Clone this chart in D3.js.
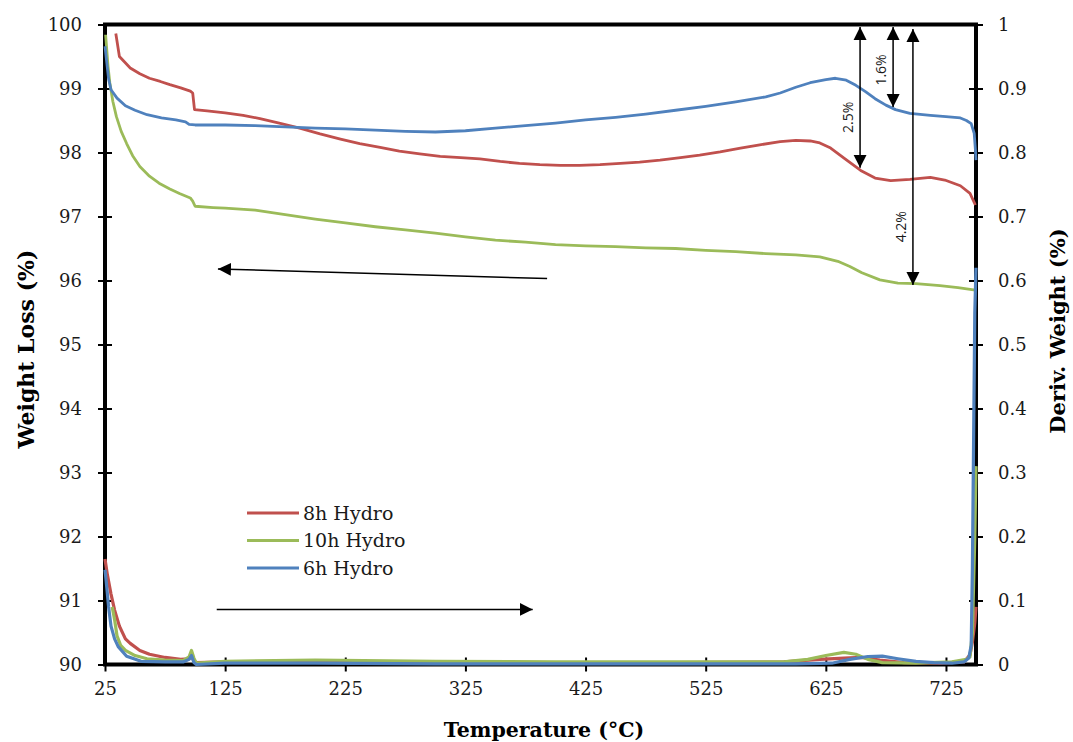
<!DOCTYPE html>
<html>
<head>
<meta charset="utf-8">
<script src="https://cdn.jsdelivr.net/npm/d3@7"></script>
<style>
  body { margin: 0; background: #fff; }
  svg text { font-family: "DejaVu Serif", "Liberation Serif", serif; }
</style>
</head>
<body>
<div id="chart"></div>
<script>
// series names and colours
const seriesNames = ["8h Hydro", "10h Hydro", "6h Hydro"];
const seriesColors = ["#c0504d", "#9bbb59", "#4f81bd"];

// axis ticks
const xTicks = [25, 125, 225, 325, 425, 525, 625, 725];
const yTicks = [90, 91, 92, 93, 94, 95, 96, 97, 98, 99, 100];
const y2Ticks = [0, 0.1, 0.2, 0.3, 0.4, 0.5, 0.6, 0.7, 0.8, 0.9, 1];

// weight loss (%) curves - primary axis
const tga8hTemp = [34, 37, 46, 54, 62, 71, 79, 88, 96, 98, 99.5, 110, 125, 140, 154, 170, 187, 204, 221, 237, 254, 270, 287, 304, 321, 337, 354, 370, 387, 404, 420, 437, 454, 470, 487, 504, 520, 537, 554, 570, 587, 600, 612, 620, 629, 641, 654, 666, 679, 695, 712, 724, 737, 745, 749.5];
const tga8hVal = [99.86, 99.50, 99.32, 99.23, 99.16, 99.11, 99.06, 99.01, 98.96, 98.93, 98.67, 98.65, 98.62, 98.58, 98.53, 98.46, 98.38, 98.29, 98.21, 98.14, 98.08, 98.02, 97.98, 97.94, 97.92, 97.90, 97.86, 97.83, 97.81, 97.80, 97.80, 97.81, 97.83, 97.85, 97.88, 97.92, 97.96, 98.01, 98.07, 98.12, 98.17, 98.19, 98.18, 98.15, 98.07, 97.90, 97.72, 97.60, 97.56, 97.58, 97.61, 97.57, 97.48, 97.36, 97.18];

const tga10hTemp = [25.5, 26.5, 27.5, 29, 31.5, 34.5, 38.5, 43, 48, 54, 62, 70, 79, 87, 96, 98, 100, 115, 125, 150, 175, 200, 225, 250, 275, 300, 325, 350, 375, 400, 425, 450, 475, 500, 525, 550, 575, 600, 620, 635, 645, 655, 670, 685, 700, 720, 735, 749.5];
const tga10hVal = [99.84, 99.60, 99.35, 99.09, 98.80, 98.56, 98.33, 98.14, 97.95, 97.78, 97.63, 97.52, 97.43, 97.36, 97.29, 97.24, 97.16, 97.14, 97.13, 97.10, 97.03, 96.96, 96.90, 96.84, 96.79, 96.74, 96.68, 96.63, 96.60, 96.56, 96.54, 96.53, 96.51, 96.50, 96.47, 96.45, 96.42, 96.40, 96.37, 96.30, 96.22, 96.12, 96.01, 95.96, 95.95, 95.92, 95.89, 95.85];

const tga6hTemp = [25, 26.5, 28, 30, 35, 42, 50, 60, 72, 84, 92, 95, 100, 125, 150, 175, 200, 225, 250, 275, 300, 325, 350, 375, 400, 425, 450, 475, 500, 525, 550, 575, 587, 600, 612, 625, 633, 642, 650, 658, 666, 675, 683, 695, 712, 725, 737, 742, 746, 748.5, 749.5, 750];
const tga6hVal = [99.66, 99.40, 99.15, 98.98, 98.85, 98.73, 98.66, 98.59, 98.54, 98.51, 98.48, 98.44, 98.43, 98.43, 98.42, 98.40, 98.38, 98.37, 98.35, 98.33, 98.32, 98.34, 98.38, 98.42, 98.46, 98.51, 98.55, 98.60, 98.66, 98.72, 98.79, 98.87, 98.93, 99.02, 99.09, 99.14, 99.16, 99.13, 99.05, 98.95, 98.84, 98.74, 98.67, 98.61, 98.58, 98.56, 98.54, 98.50, 98.45, 98.30, 98.05, 97.88];

// derivative weight (%) curves - secondary axis
const dtg8hTemp = [25, 27, 30, 33, 37, 42, 46, 54, 62, 75, 88, 95, 97, 99, 101, 125, 200, 300, 400, 500, 590, 620, 640, 655, 670, 690, 720, 740, 745, 747, 749, 750];
const dtg8hVal = [0.165, 0.14, 0.11, 0.085, 0.06, 0.04, 0.033, 0.022, 0.016, 0.011, 0.008, 0.009, 0.012, 0.006, 0.003, 0.004, 0.005, 0.004, 0.003, 0.003, 0.004, 0.008, 0.010, 0.011, 0.007, 0.003, 0.002, 0.004, 0.015, 0.035, 0.065, 0.09];

const dtg10hTemp = [31, 33, 35, 38, 42, 50, 60, 75, 90, 95, 97, 99, 101, 125, 200, 300, 400, 500, 590, 610, 625, 640, 650, 660, 672, 700, 730, 742, 745, 747, 749, 750];
const dtg10hVal = [0.09, 0.07, 0.045, 0.03, 0.022, 0.014, 0.009, 0.007, 0.006, 0.012, 0.022, 0.01, 0.002, 0.005, 0.007, 0.005, 0.004, 0.004, 0.004, 0.008, 0.014, 0.019, 0.016, 0.008, 0.003, 0.002, 0.004, 0.008, 0.012, 0.05, 0.2, 0.31];

const dtg6hTemp = [25, 26, 28, 30, 33, 36, 43, 55, 75, 90, 95, 97, 99, 101, 125, 200, 300, 400, 500, 600, 630, 645, 660, 672, 685, 700, 715, 730, 740, 744, 746, 747, 748, 749, 750];
const dtg6hVal = [0.148, 0.13, 0.09, 0.06, 0.04, 0.028, 0.013, 0.005, 0.004, 0.004, 0.008, 0.014, 0.003, 0.0, 0.002, 0.002, 0.001, 0.001, 0.001, 0.001, 0.002, 0.008, 0.0125, 0.013, 0.009, 0.005, 0.003, 0.002, 0.004, 0.01, 0.03, 0.15, 0.35, 0.55, 0.62];

// annotation arrows in data units
const stepLabels = ["2.5%", "1.6%", "4.2%"];
const stepTemp = [653.5, 681, 697.5];
const stepTop = [99.96, 99.96, 99.93];
const stepBottom = [97.76, 98.71, 95.93];
const stepLabelVal = [98.55, 99.29, 96.84];

const tgaArrowTemp = [393, 119];
const tgaArrowVal = [96.03, 96.18];
const dtgArrowTemp = [118, 381];
const dtgArrowVal = [0.086, 0.086];

const width = 1073;
const height = 742;
const margin = { top: 24.5, right: 97, bottom: 77.5, left: 105 };

const svg = d3.select("#chart")
    .append("svg")
    .attr("width", width)
    .attr("height", height);

const x = d3.scaleLinear().domain([25, 750]).range([margin.left, width - margin.right]);
const y = d3.scaleLinear().domain([90, 100]).range([height - margin.bottom, margin.top]);
const y2 = d3.scaleLinear().domain([0, 1]).range([height - margin.bottom, margin.top]);

svg.append("defs").append("marker")
    .attr("id", "head")
    .attr("viewBox", "0 0 10 10")
    .attr("refX", 10)
    .attr("refY", 5)
    .attr("markerWidth", 13)
    .attr("markerHeight", 14)
    .attr("markerUnits", "userSpaceOnUse")
    .attr("orient", "auto-start-reverse")
    .append("path")
    .attr("d", "M0,0 L10,5 L0,10 Z")
    .attr("fill", "#000");

// plot frame
svg.append("rect")
    .attr("x", x(25))
    .attr("y", y(100))
    .attr("width", x(750) - x(25))
    .attr("height", y(90) - y(100))
    .attr("fill", "none")
    .attr("stroke", "#000")
    .attr("stroke-width", 4);

// axes
const xAxis = svg.append("g")
    .attr("transform", `translate(0,${y(90)})`)
    .call(d3.axisBottom(x).tickValues(xTicks).tickSize(7).tickPadding(11));

const yAxis = svg.append("g")
    .attr("transform", `translate(${x(25)},0)`)
    .call(d3.axisLeft(y).tickValues(yTicks).tickSize(7).tickPadding(16));

const y2Axis = svg.append("g")
    .attr("transform", `translate(${x(750)},0)`)
    .call(d3.axisRight(y2).tickValues(y2Ticks).tickFormat(d3.format("~g")).tickSize(7).tickPadding(15));

[xAxis, yAxis, y2Axis].forEach(g => {
    g.select(".domain").remove();
    g.selectAll(".tick line").attr("stroke", "#000").attr("stroke-width", 2);
    g.selectAll(".tick text")
        .style("font-family", "'DejaVu Serif', serif")
        .style("font-size", "18px")
        .attr("fill", "#1a1a1a");
});
xAxis.selectAll(".tick line").attr("y1", -7).attr("y2", 7);
yAxis.selectAll(".tick line").attr("x1", -7).attr("x2", 7);
y2Axis.selectAll(".tick line").attr("x1", -7).attr("x2", 7);

// curves
const tgaLine = d3.line().x(d => x(d[0])).y(d => y(d[1]));
const dtgLine = d3.line().x(d => x(d[0])).y(d => y2(d[1]));

const tgaSeries = [
    d3.zip(tga8hTemp, tga8hVal),
    d3.zip(tga10hTemp, tga10hVal),
    d3.zip(tga6hTemp, tga6hVal)
];
const dtgSeries = [
    d3.zip(dtg8hTemp, dtg8hVal),
    d3.zip(dtg10hTemp, dtg10hVal),
    d3.zip(dtg6hTemp, dtg6hVal)
];

tgaSeries.forEach((s, i) => {
    svg.append("path")
        .datum(s)
        .attr("fill", "none")
        .attr("stroke", seriesColors[i])
        .attr("stroke-width", 2.8)
        .attr("stroke-linejoin", "round")
        .attr("d", tgaLine);
});
dtgSeries.forEach((s, i) => {
    svg.append("path")
        .datum(s)
        .attr("fill", "none")
        .attr("stroke", seriesColors[i])
        .attr("stroke-width", 3.2)
        .attr("stroke-linejoin", "round")
        .attr("d", dtgLine);
});

// direction arrows
svg.append("line")
    .attr("x1", x(tgaArrowTemp[0])).attr("y1", y(tgaArrowVal[0]))
    .attr("x2", x(tgaArrowTemp[1])).attr("y2", y(tgaArrowVal[1]))
    .attr("stroke", "#000").attr("stroke-width", 1.5)
    .attr("marker-end", "url(#head)");
svg.append("line")
    .attr("x1", x(dtgArrowTemp[0])).attr("y1", y2(dtgArrowVal[0]))
    .attr("x2", x(dtgArrowTemp[1])).attr("y2", y2(dtgArrowVal[1]))
    .attr("stroke", "#000").attr("stroke-width", 1.5)
    .attr("marker-end", "url(#head)");

// step arrows with labels
stepLabels.forEach((lab, i) => {
    const px = x(stepTemp[i]);
    svg.append("line")
        .attr("x1", px).attr("y1", y(stepTop[i]))
        .attr("x2", px).attr("y2", y(stepBottom[i]))
        .attr("stroke", "#000").attr("stroke-width", 1.5)
        .attr("marker-start", "url(#head)")
        .attr("marker-end", "url(#head)");
    svg.append("text")
        .attr("transform", `translate(${px - 7},${y(stepLabelVal[i])}) rotate(-90)`)
        .attr("text-anchor", "middle")
        .style("font-family", "'Open Sans', sans-serif")
        .style("font-size", "14px")
        .attr("fill", "#1a1a1a")
        .text(lab);
});

// legend
const legend = svg.append("g").attr("transform", "translate(247,513)");
seriesNames.forEach((name, i) => {
    legend.append("line")
        .attr("x1", 0).attr("x2", 52)
        .attr("y1", i * 27.5).attr("y2", i * 27.5)
        .attr("stroke", seriesColors[i])
        .attr("stroke-width", 3);
    legend.append("text")
        .attr("x", 56)
        .attr("y", i * 27.5)
        .attr("dy", "0.35em")
        .style("font-size", "19px")
        .attr("fill", "#1a1a1a")
        .text(name);
});

// axis titles
svg.append("text")
    .attr("x", 544)
    .attr("y", 737)
    .attr("text-anchor", "middle")
    .style("font-size", "20.5px")
    .style("font-weight", "bold")
    .text("Temperature (°C)");

svg.append("text")
    .attr("transform", "translate(34,349) rotate(-90)")
    .attr("text-anchor", "middle")
    .style("font-size", "22px")
    .style("font-weight", "bold")
    .text("Weight Loss (%)");

svg.append("text")
    .attr("transform", "translate(1065,331) rotate(-90)")
    .attr("text-anchor", "middle")
    .style("font-size", "21px")
    .style("font-weight", "bold")
    .text("Deriv. Weight (%)");
</script>
</body>
</html>
